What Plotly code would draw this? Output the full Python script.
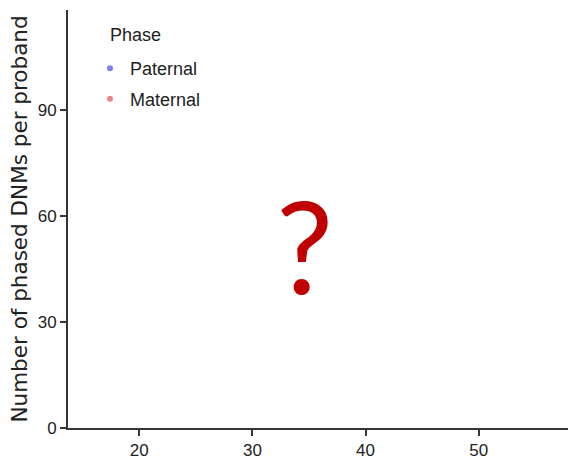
import plotly.graph_objects as go

# Legend groups (no observations plotted yet)
phases = ["Paternal", "Maternal"]
phase_colors = ["#7f7ff2", "#ee8589"]

# Axis ticks and ranges
x_ticks = [20, 30, 40, 50]
y_ticks = [0, 30, 60, 90]
x_range = [13.7, 57.9]
y_range = [0, 118.3]

sans = "Liberation Sans, Arial, sans-serif"
axis_color = "#363636"
text_color = "#222222"

fig = go.Figure()
for name, color in zip(phases, phase_colors):
    fig.add_trace(go.Scatter(
        x=[None], y=[None], mode="markers", name=name, legendgroup=name,
        marker=dict(color=color, size=6),
    ))

axis_common = dict(
    showgrid=False, zeroline=False, showline=True, automargin=False,
    linecolor=axis_color, linewidth=2,
    ticks="outside", ticklen=6, tickwidth=1.5, tickcolor=axis_color,
    tickfont=dict(family=sans, size=17, color=text_color),
)

fig.update_xaxes(range=x_range, tickvals=x_ticks, **axis_common)
fig.update_yaxes(
    range=y_range, tickvals=y_ticks,
    title=dict(text="Number of phased DNMs per proband",
               font=dict(family="DejaVu Sans", size=21.5, color=text_color),
               standoff=4),
    **axis_common,
)

# Legend title drawn separately so it lines up with the entries
fig.add_annotation(
    text="Phase", xref="paper", yref="paper", x=0.079, y=0.94,
    xanchor="left", yanchor="middle", showarrow=False,
    font=dict(family=sans, size=18, color=text_color),
)

# Placeholder mark in the middle of the empty panel
fig.add_annotation(
    text="?", xref="paper", yref="paper", x=0.472, y=0.44,
    xanchor="center", yanchor="middle", showarrow=False,
    font=dict(family="Lato, Liberation Sans, sans-serif", size=128,
              color="#c00000"),
)

fig.update_layout(
    width=576, height=461,
    margin=dict(l=68, r=8, t=10, b=33, autoexpand=False),
    plot_bgcolor="white", paper_bgcolor="white",
    showlegend=True,
    legend=dict(
        x=0.044, y=0.904, xanchor="left", yanchor="top",
        bgcolor="rgba(0,0,0,0)", tracegroupgap=4, traceorder="grouped",
        font=dict(family=sans, size=18, color=text_color),
    ),
)

fig.write_html("out.html")
